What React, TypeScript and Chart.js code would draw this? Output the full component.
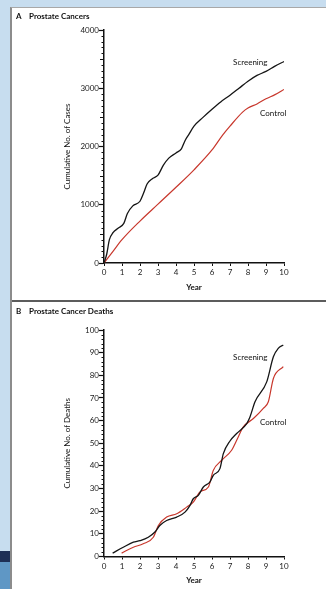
import React, { useEffect, useRef } from 'react';
import { Chart, registerables } from 'chart.js';
Chart.register(...registerables);

const FONT = 'Lato, "Open Sans", sans-serif';

// Panel A: Prostate Cancers (cumulative no. of cases)
const scrA_x = [0, 0.15, 0.3, 0.5, 0.8, 1.1, 1.3, 1.6, 2.0, 2.2, 2.4, 2.7, 3.0, 3.3, 3.6, 4.0, 4.3, 4.5, 4.7, 5.0, 5.5, 6.0, 6.5, 7.0, 7.5, 8.0, 8.5, 9.0, 9.5, 10];
const scrA_y = [0, 150, 400, 520, 600, 680, 850, 980, 1060, 1200, 1360, 1450, 1510, 1680, 1800, 1890, 1960, 2100, 2200, 2350, 2500, 2640, 2770, 2880, 3000, 3120, 3220, 3290, 3380, 3460];
const ctlA_x = [0, 0.5, 1, 2, 3, 4, 5, 6, 6.6, 7, 7.7, 8, 8.5, 9, 9.5, 10];
const ctlA_y = [0, 200, 400, 720, 1010, 1300, 1600, 1940, 2200, 2350, 2590, 2660, 2730, 2820, 2890, 2980];

// Panel B: Prostate Cancer Deaths (cumulative no. of deaths)
const scrB_x = [0.48, 1.07, 1.63, 2.0, 2.46, 2.83, 3.1, 3.48, 4.04, 4.5, 4.78, 4.96, 5.24, 5.52, 5.89, 6.07, 6.44, 6.63, 7.0, 7.37, 7.93, 8.11, 8.39, 9.04, 9.41, 9.68, 9.96];
const scrB_y = [1.5, 4.1, 6.3, 7, 8.5, 10.8, 13.7, 15.9, 17.4, 19.6, 22.6, 25.5, 27, 30.7, 32.9, 35.8, 38.8, 45.4, 51, 54.3, 58.7, 61.6, 68.3, 77.1, 88.2, 91.9, 93.4];
const ctlB_x = [0.98, 1.63, 2.18, 2.74, 3.02, 3.48, 4.04, 4.59, 4.96, 5.33, 5.8, 6.07, 6.54, 7.09, 7.37, 7.74, 8.3, 8.85, 9.13, 9.41, 9.96];
const ctlB_y = [1.5, 4.1, 5.6, 8.5, 13.7, 17.4, 18.9, 21.8, 24, 28.5, 30.7, 38, 42.5, 46.9, 51.3, 57.2, 60.9, 65.4, 68.3, 78.6, 83.8];

const xTicks = [0, 1, 2, 3, 4, 5, 6, 7, 8, 9, 10];

const pts = (xs: number[], ys: number[]) => xs.map((x, i) => ({ x, y: ys[i] }));

type PanelProps = {
  top: number;
  height: number;
  letter: string;
  title: string;
  titleY: number;
  yTitle: string;
  yMax: number;
  major: number;
  minor: number;
  mid: number;
  padTop: number;
  xHeight: number;
  yearPad: number;
  scr: { x: number; y: number }[];
  ctl: { x: number; y: number }[];
  notes: { text: string; x: number; y: number }[];
};

function Panel(p: PanelProps) {
  const ref = useRef<HTMLCanvasElement>(null);
  useEffect(() => {
    if (!ref.current) return;
    const decor = {
      id: 'decor',
      afterDraw(chart: any) {
        const { ctx } = chart;
        const x = chart.scales.x;
        const y = chart.scales.y;
        ctx.save();
        ctx.strokeStyle = '#111';
        ctx.lineWidth = 1;
        const n = Math.round(p.yMax / p.minor);
        for (let i = 1; i < n; i++) {
          const v = i * p.minor;
          if (Math.abs(v % p.major) < 1e-6) continue;
          const py = Math.round(y.getPixelForValue(v)) + 0.5;
          const len = Math.abs(v % p.mid) < 1e-6 ? 4 : 2.5;
          ctx.beginPath();
          ctx.moveTo(x.left - len, py);
          ctx.lineTo(x.left, py);
          ctx.stroke();
        }
        ctx.fillStyle = '#111';
        ctx.textBaseline = 'middle';
        ctx.textAlign = 'left';
        ctx.font = `bold 8px ${FONT}`;
        ctx.fillText(p.letter, 16, p.titleY);
        ctx.fillText(p.title, 29, p.titleY);
        ctx.font = `8px ${FONT}`;
        p.notes.forEach((nt) => {
          ctx.fillText(nt.text, x.getPixelForValue(nt.x), y.getPixelForValue(nt.y));
        });
        ctx.restore();
      },
    };
    const chart = new Chart(ref.current, {
      type: 'line',
      data: {
        datasets: [
          {
            label: 'Screening',
            data: p.scr,
            borderColor: '#151515',
            borderWidth: 1.3,
            pointRadius: 0,
            cubicInterpolationMode: 'monotone',
          },
          {
            label: 'Control',
            data: p.ctl,
            borderColor: '#c8372c',
            borderWidth: 1.2,
            pointRadius: 0,
            cubicInterpolationMode: 'monotone',
          },
        ],
      },
      options: {
        animation: false,
        responsive: false,
        devicePixelRatio: 1,
        layout: { padding: { left: 60, right: 42, top: p.padTop, bottom: 0 } },
        plugins: { legend: { display: false }, tooltip: { enabled: false } },
        scales: {
          x: {
            type: 'linear',
            min: 0,
            max: 10,
            afterFit: (s: any) => { s.height = p.xHeight; },
            afterBuildTicks: (s: any) => { s.ticks = xTicks.map((v) => ({ value: v })); },
            grid: { drawOnChartArea: false, tickLength: 3, tickColor: '#111', tickWidth: 1 },
            border: { color: '#111', width: 1.5 },
            ticks: { color: '#222', font: { family: FONT, size: 8 }, padding: 2, maxRotation: 0, autoSkip: false, callback: (v: any) => String(v) },
            title: { display: true, text: 'Year', color: '#111', font: { family: FONT, size: 8, weight: 'bold' }, padding: { top: 0, bottom: p.yearPad } },
          },
          y: {
            type: 'linear',
            min: 0,
            max: p.yMax,
            afterFit: (s: any) => { s.width = 44; },
            ticks: { stepSize: p.major, color: '#222', font: { family: FONT, size: 8 }, padding: 0, autoSkip: false, callback: (v: any) => String(v) },
            grid: { drawOnChartArea: false, tickLength: 5, tickColor: '#111', tickWidth: 1.2 },
            border: { color: '#111', width: 1.5 },
            title: { display: true, text: p.yTitle, color: '#111', font: { family: FONT, size: 8 }, padding: { top: 3, bottom: 0 } },
          },
        },
      },
      plugins: [decor],
    } as any);
    return () => chart.destroy();
  }, []);
  return (
    <canvas
      ref={ref}
      width={326}
      height={p.height}
      style={{ position: 'absolute', left: 0, top: p.top, width: 326, height: p.height }}
    />
  );
}

export default function App() {
  return (
    <div style={{ position: 'fixed', left: 0, top: 0, width: 326, height: 589, background: '#c7ddef', overflow: 'hidden' }}>
      <div style={{ position: 'absolute', left: 0, top: 551, width: 10, height: 11, background: '#1d2f56' }} />
      <div style={{ position: 'absolute', left: 0, top: 562, width: 10, height: 27, background: '#5f97c5' }} />
      <div
        style={{
          position: 'absolute', left: 10, top: 7, width: 320, height: 590, background: '#fff',
          borderLeft: '2px solid #8c8c8c', borderTop: '1px solid #a8a8a8', boxSizing: 'border-box',
        }}
      />
      <div style={{ position: 'absolute', left: 12, top: 300, width: 314, height: 1.5, background: '#5c5c5c' }} />
      <Panel
        top={0}
        height={300}
        letter="A"
        title="Prostate Cancers"
        titleY={16}
        yTitle="Cumulative No. of Cases"
        yMax={4000}
        major={1000}
        minor={100}
        mid={500}
        padTop={30}
        xHeight={37}
        yearPad={8}
        scr={pts(scrA_x, scrA_y)}
        ctl={pts(ctlA_x, ctlA_y)}
        notes={[
          { text: 'Screening', x: 7.17, y: 3440 },
          { text: 'Control', x: 8.67, y: 2575 },
        ]}
      />
      <Panel
        top={301}
        height={288}
        letter="B"
        title="Prostate Cancer Deaths"
        titleY={10}
        yTitle="Cumulative No. of Deaths"
        yMax={100}
        major={10}
        minor={2}
        mid={10}
        padTop={29}
        xHeight={32.5}
        yearPad={4}
        scr={pts(scrB_x, scrB_y)}
        ctl={pts(ctlB_x, ctlB_y)}
        notes={[
          { text: 'Screening', x: 7.17, y: 88 },
          { text: 'Control', x: 8.67, y: 59 },
        ]}
      />
    </div>
  );
}
